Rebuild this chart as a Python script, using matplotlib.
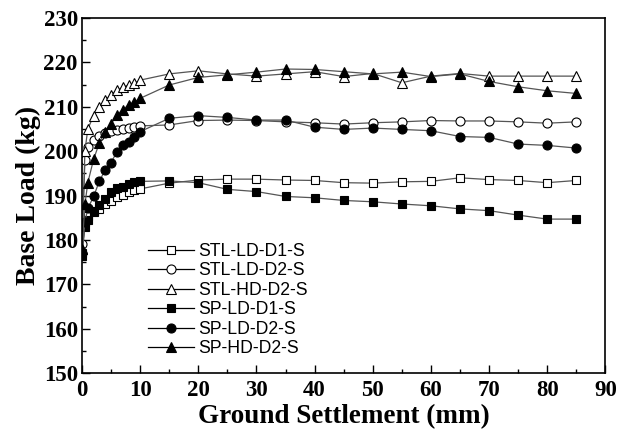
import matplotlib.pyplot as plt
from matplotlib.ticker import MultipleLocator

# 沉降量 (mm)
x = [0, 0.5, 1, 2, 3, 4, 5, 6, 7, 8, 9, 10,
     15, 20, 25, 30, 35, 40, 45, 50, 55, 60, 65, 70, 75, 80, 85]

stl_ld_d1 = [177, 184, 185.5, 186.5, 187, 188, 188.8, 189.6, 190.2, 190.8, 191.2, 191.5,
             192.8, 193.5, 193.7, 193.7, 193.5, 193.4, 192.9, 192.8, 193.1, 193.2, 194.0, 193.6, 193.4, 192.9, 193.4]
stl_ld_d2 = [179, 198, 201, 202.5, 203.5, 204, 204.5, 204.8, 205, 205.3, 205.5, 205.7,
             205.9, 206.9, 207.0, 206.9, 206.6, 206.4, 206.1, 206.4, 206.6, 206.9, 206.8, 206.8, 206.6, 206.3, 206.6]
stl_hd_d2 = [178, 200, 205, 208, 210, 211.5, 212.7, 213.7, 214.4, 214.9, 215.3, 216,
             217.4, 218.1, 217.4, 216.9, 217.4, 217.9, 216.8, 217.5, 215.4, 216.9, 217.5, 216.9, 216.9, 216.9, 216.9]
sp_ld_d1 = [176.5, 183, 184.5, 186.3, 187.9, 189.2, 190.9, 191.6, 192, 192.5, 193, 193.2,
            193.3, 192.9, 191.4, 190.9, 189.8, 189.5, 188.9, 188.6, 188.1, 187.7, 187.0, 186.6, 185.6, 184.7, 184.7]
sp_ld_d2 = [177, 184, 187.1, 189.8, 193.3, 195.8, 197.4, 199.9, 201.4, 202.1, 203.3, 204.4,
            207.4, 208.0, 207.6, 207.0, 207.0, 205.4, 204.9, 205.2, 204.9, 204.6, 203.3, 203.1, 201.6, 201.3, 200.7]
sp_hd_d2 = [178, 188, 192.9, 198.2, 201.9, 204.4, 206.1, 208.2, 209.3, 210.4, 211.1, 211.9,
            214.9, 216.6, 217.2, 217.8, 218.5, 218.4, 217.9, 217.4, 217.8, 216.8, 217.4, 215.7, 214.5, 213.6, 213.0]

series = [
    ("STL-LD-D1-S", stl_ld_d1, "s", "white", 6),
    ("STL-LD-D2-S", stl_ld_d2, "o", "white", 6.5),
    ("STL-HD-D2-S", stl_hd_d2, "^", "white", 7),
    ("SP-LD-D1-S", sp_ld_d1, "s", "black", 6),
    ("SP-LD-D2-S", sp_ld_d2, "o", "black", 6.5),
    ("SP-HD-D2-S", sp_hd_d2, "^", "black", 7),
]

fig = plt.figure(figsize=(6.26, 4.38), dpi=100)
ax = fig.add_axes([0.131, 0.148, 0.836, 0.811])

for name, y, m, fc, ms in series:
    ax.plot(x, y, color="#555555", linewidth=0.9, marker=m, markersize=ms,
            markerfacecolor=fc, markeredgecolor="black", markeredgewidth=0.8, label=name)

ax.set_xlim(0, 90)
ax.set_ylim(150, 230)
ax.xaxis.set_major_locator(MultipleLocator(10))
ax.xaxis.set_minor_locator(MultipleLocator(5))
ax.yaxis.set_major_locator(MultipleLocator(10))
ax.yaxis.set_minor_locator(MultipleLocator(5))
ax.tick_params(which="both", direction="in", top=False, right=False, width=1)
ax.tick_params(which="major", length=6)
ax.tick_params(which="minor", length=3)
ax.tick_params(axis="x", pad=5)
ax.tick_params(axis="y", pad=3)
for lab in ax.get_xticklabels() + ax.get_yticklabels():
    lab.set_fontfamily("Liberation Serif")
    lab.set_fontweight("bold")
    lab.set_fontsize(16.5)
for s in ax.spines.values():
    s.set_linewidth(1.2)

ax.set_xlabel("Ground Settlement (mm)", family="Liberation Serif", weight="bold", fontsize=19.5, labelpad=2)
ax.set_ylabel("Base Load (kg)", family="Liberation Serif", weight="bold", fontsize=20, labelpad=2)

leg = ax.legend(loc="lower left", bbox_to_anchor=(0.112, 0.025), frameon=False,
                prop={"family": "Liberation Sans", "size": 12.7}, handlelength=2.6,
                labelspacing=0.14, handletextpad=0.25, borderaxespad=0)
for h in leg.legend_handles:
    h.set_color("black")
    h.set_markeredgecolor("black")

fig.savefig("out.png", dpi=100)
